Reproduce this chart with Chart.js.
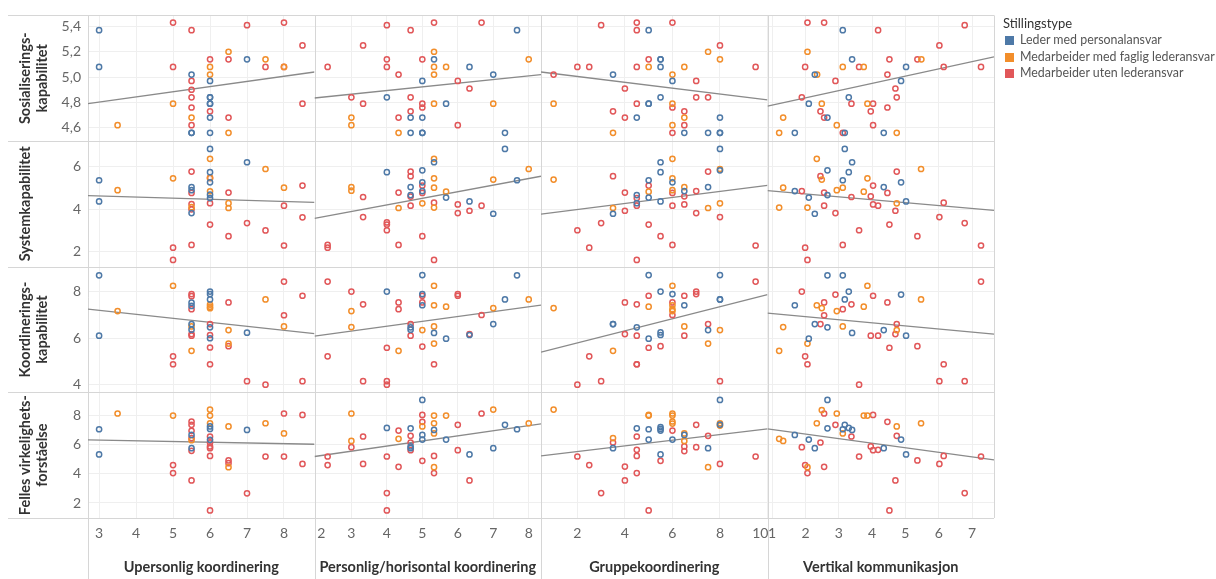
<!DOCTYPE html>
<html>
<head>
<meta charset="utf-8">
<script src="https://cdn.jsdelivr.net/npm/chart.js@4"></script>
<style>
  body { margin: 0; background: #fff; }
  #wrap { position: relative; width: 1216px; height: 579px; }
  #legend { position: absolute; left: 1003px; top: 15px; font-family: Lato, sans-serif; color: #333; }
  #legend .lt { font-size: 13px; line-height: 17px; }
  #legend .li { font-size: 12.4px; line-height: 16.5px; height: 16.5px; white-space: nowrap; color: #555; }
  #legend .sw { display: inline-block; width: 9px; height: 9px; margin: 0 6px 0 2px; vertical-align: -1px; }
</style>
</head>
<body>
<div id="wrap">
  <canvas id="chart" width="1216" height="579"></canvas>
  <div id="legend"></div>
</div>
<script>
/* =========================================================
   DATA  (point = [x, y, group])
   group: 0 = Leder, 1 = faglig lederansvar, 2 = uten lederansvar
========================================================= */
const groups = ["Leder med personalansvar", "Medarbeider med faglig lederansvar", "Medarbeider uten lederansvar"];
const groupColors = ["#4e79a7", "#f28e2b", "#e15759"];

const xTitles = ["Upersonlig koordinering", "Personlig/horisontal koordinering", "Gruppekoordinering", "Vertikal kommunikasjon"];
const yTitles = [["Sosialiserings-", "kapabilitet"], "Systemkapabilitet", ["Koordinerings-", "kapabilitet"], ["Felles virkelighets-", "forståelse"]];

const upersTicks = [3, 4, 5, 6, 7, 8];
const persTicks = [2, 3, 4, 5, 6, 7, 8];
const gruppeTicks = [2, 4, 6, 8, 10];
const vertTicks = [1, 2, 3, 4, 5, 6, 7];

const sosTicks = [4.6, 4.8, 5.0, 5.2, 5.4];
const sysTicks = [2, 4, 6];
const koordTicks = [4, 6, 8];
const fellesTicks = [2, 4, 6, 8];

// row 1: Sosialiseringskapabilitet
const sosUpers = [[3,5.37,0],[3,5.08,0],[3.5,4.62,1],[5,5.43,2],[5,5.08,2],[5,4.79,1],[5.5,5.37,2],[5.5,5.02,0],[5.5,4.97,2],[5.5,4.9,2],[5.5,4.84,2],[5.5,4.76,2],[5.5,4.68,1],[5.5,4.62,2],[5.5,4.56,0],[5.5,4.56,0],[6,5.14,2],[6,5.08,1],[6,5.02,1],[6,4.97,0],[6,4.84,0],[6,4.84,0],[6,4.79,0],[6,4.79,0],[6,4.73,2],[6,4.68,0],[6,4.56,0],[6.5,5.2,1],[6.5,5.14,2],[6.5,4.68,2],[6.5,4.56,1],[7,5.41,2],[7,5.14,0],[7.5,5.14,1],[7.5,5.08,2],[8,5.43,2],[8,5.08,2],[8,5.08,1],[8.5,5.25,2],[8.5,4.79,2]];
const sosPers = [[2.33,5.08,2],[3,4.84,2],[3,4.68,1],[3,4.62,1],[3.33,5.25,2],[3.33,4.79,2],[4,5.41,2],[4,5.14,2],[4,5.08,2],[4,4.84,0],[4.33,5.02,2],[4.33,4.68,2],[4.33,4.56,1],[4.67,5.37,2],[4.67,4.84,2],[4.67,4.73,2],[4.67,4.68,0],[4.67,4.56,0],[5,5.14,2],[5,4.97,0],[5,4.79,2],[5,4.76,2],[5,4.68,0],[5,4.56,0],[5,4.56,0],[5.33,5.43,2],[5.33,5.2,1],[5.33,5.14,0],[5.33,5.08,1],[5.33,5.02,1],[5.33,4.79,1],[5.67,5.08,1],[5.67,4.79,0],[6,4.97,2],[6,4.62,2],[6.33,5.08,0],[6.33,4.91,2],[6.67,5.43,2],[7,5.02,0],[7,4.79,1],[7.33,4.56,0],[7.67,5.37,0],[8,5.14,1]];
const sosGruppe = [[1,5.02,2],[1,4.79,1],[2,5.08,2],[2.5,5.08,2],[3,5.41,2],[3.5,5.02,0],[3.5,4.56,1],[3.5,4.73,2],[4,4.91,2],[4,4.68,2],[4.5,5.43,2],[4.5,5.37,2],[4.5,5.08,2],[4.5,4.79,2],[4.5,4.68,0],[5,5.37,0],[5,5.14,2],[5,5.08,1],[5,4.79,0],[5,4.79,0],[5.5,5.14,0],[5.5,5.14,0],[5.5,5.08,0],[5.5,4.84,0],[6,5.43,2],[6,5.02,1],[6,4.97,0],[6,4.79,1],[6,4.76,2],[6,4.62,1],[6,4.56,2],[6.5,5.08,1],[6.5,4.73,2],[6.5,4.68,1],[6.5,4.62,2],[6.5,4.56,0],[7,4.97,2],[7,4.84,2],[7.5,5.2,1],[7.5,4.84,2],[7.5,4.56,0],[8,5.25,2],[8,5.14,1],[8,4.68,0],[8,4.56,0],[8,4.56,0],[9.5,5.08,2]];
const sosVert = [[2.06,5.43,2],[2.56,5.43,2],[3.12,5.37,0],[4.18,5.37,2],[6.78,5.41,2],[6.02,5.25,2],[2.06,5.2,1],[3.4,5.14,0],[4.52,5.14,2],[5.36,5.14,2],[5.48,5.14,1],[1.99,5.08,2],[3.12,5.08,1],[3.61,5.08,2],[3.75,5.08,1],[5.02,5.08,0],[6.15,5.08,2],[7.27,5.08,2],[2.28,5.02,0],[2.35,5.02,1],[4.46,5.02,2],[2.9,4.97,2],[4.87,4.97,0],[4.7,4.91,2],[1.89,4.84,2],[3.3,4.84,0],[4.74,4.84,2],[2.1,4.79,0],[2.49,4.79,1],[3.38,4.79,2],[3.86,4.79,1],[4.03,4.79,2],[2.45,4.73,2],[3.96,4.73,2],[4.46,4.76,2],[1.33,4.68,1],[2.56,4.68,2],[2.66,4.68,0],[2.94,4.62,1],[4.03,4.62,2],[1.21,4.56,1],[1.68,4.56,0],[3.12,4.56,2],[3.18,4.56,0],[4.35,4.56,0],[4.74,4.56,1]];

// row 2: Systemkapabilitet
const sysUpers = [[3,5.37,0],[3,4.37,0],[3.5,4.9,1],[5,5.46,1],[5,2.19,2],[5,1.61,2],[5.5,5.78,2],[5.5,5.05,0],[5.5,4.9,0],[5.5,4.77,2],[5.5,4.25,2],[5.5,4.1,1],[5.5,4.0,2],[5.5,3.82,0],[5.5,2.32,2],[6,6.85,0],[6,6.38,1],[6,5.75,0],[6,5.48,2],[6,5.48,1],[6,5.27,0],[6,4.85,1],[6,4.69,0],[6,4.53,0],[6,4.29,2],[6,3.28,2],[6.5,4.79,2],[6.5,4.29,1],[6.5,4.06,1],[6.5,2.73,2],[7,6.22,0],[7,3.35,2],[7.5,5.9,1],[7.5,3.0,2],[8,5.02,1],[8,4.17,2],[8,2.29,2],[8.5,5.12,2],[8.5,3.62,2]];
const sysPers = [[2.33,2.32,2],[2.33,2.19,2],[3,5.05,1],[3,4.88,1],[3.33,4.58,2],[3.33,3.63,2],[4,5.75,0],[4,3.38,2],[4,3.28,2],[4,3.01,2],[4.33,4.79,2],[4.33,4.06,1],[4.33,2.32,2],[4.67,5.78,2],[4.67,5.56,2],[4.67,5.05,0],[4.67,4.67,0],[4.67,4.6,2],[4.67,4.17,2],[5,5.84,0],[5,5.27,0],[5,5.12,2],[5,4.86,0],[5,4.77,2],[5,4.28,1],[5,2.73,2],[5.33,6.38,1],[5.33,6.22,0],[5.33,5.46,1],[5.33,5.02,1],[5.33,4.31,2],[5.33,4.08,1],[5.33,1.61,2],[5.67,4.83,1],[5.67,4.55,0],[6,4.23,2],[6,3.82,2],[6.33,4.37,0],[6.33,3.93,2],[6.67,4.17,2],[7,3.79,0],[7,5.4,1],[7.33,6.85,0],[7.67,5.37,0],[8,5.9,1]];
const sysGruppe = [[1,5.4,1],[2,3.01,2],[2.5,2.19,2],[3,3.35,2],[3.5,5.56,2],[3.5,4.06,1],[3.5,3.79,0],[4,4.79,2],[4,3.93,2],[4.5,1.61,2],[4.5,4.67,0],[4.5,4.53,2],[4.5,4.29,0],[4.5,4.17,2],[5,5.37,0],[5,5.12,2],[5,4.83,1],[5,4.55,0],[5,3.28,2],[5.5,6.22,0],[5.5,5.75,0],[5.5,4.37,0],[5.5,2.73,2],[6,6.38,1],[6,5.46,1],[6,5.27,0],[6,4.9,1],[6,4.77,2],[6,4.17,2],[6,2.32,2],[6.5,5.05,1],[6.5,4.86,0],[6.5,4.61,2],[6.5,4.23,2],[7,4.86,2],[7,3.82,2],[7.5,5.78,2],[7.5,5.05,0],[7.5,4.06,1],[8,6.85,0],[8,5.9,1],[8,5.84,0],[8,4.28,1],[8,3.63,2],[9.5,2.29,2]];
const sysVert = [[3.18,6.85,0],[2.34,6.38,1],[3.4,6.22,0],[2.66,5.84,0],[3.3,5.75,0],[4.74,5.78,2],[5.47,5.9,1],[2.45,5.56,2],[2.49,5.4,1],[3.12,5.37,0],[3.86,5.46,1],[4.87,5.27,0],[4.03,5.12,2],[4.35,5.05,0],[1.33,5.02,1],[3.12,5.02,1],[2.94,4.9,1],[1.68,4.86,0],[1.89,4.86,2],[3.75,4.83,1],[2.56,4.79,2],[4.46,4.77,2],[2.66,4.67,0],[3.96,4.61,2],[3.38,4.58,2],[2.1,4.55,0],[5.02,4.37,0],[4.74,4.28,1],[6.15,4.31,2],[4.03,4.23,2],[4.18,4.17,2],[2.56,4.17,2],[1.21,4.08,1],[2.06,4.08,1],[4.7,3.93,2],[2.9,3.82,2],[2.28,3.79,0],[6.02,3.63,2],[6.78,3.35,2],[4.52,3.28,2],[3.61,3.01,2],[5.36,2.73,2],[1.99,2.19,2],[3.12,2.32,2],[7.27,2.29,2],[2.06,1.61,2]];

// row 3: Koordineringskapabilitet
const koordUpers = [[3,8.71,0],[3,6.11,0],[3.5,7.17,1],[5,8.26,1],[5,5.22,2],[5,4.88,2],[5.5,7.9,2],[5.5,7.81,2],[5.5,7.53,0],[5.5,7.39,0],[5.5,7.25,2],[5.5,6.61,0],[5.5,6.51,1],[5.5,6.37,0],[5.5,6.18,2],[5.5,6.11,2],[5.5,5.46,1],[6,8.01,0],[6,7.9,0],[6,7.67,0],[6,7.45,1],[6,7.36,1],[6,7.29,1],[6,6.61,2],[6,6.47,0],[6,6.14,2],[6,6.0,0],[6,5.6,2],[6,4.88,2],[6.5,7.54,2],[6.5,6.35,1],[6.5,5.77,1],[6.5,5.66,2],[7,6.24,0],[7,4.15,2],[7.5,7.67,1],[7.5,4.0,2],[8,8.44,2],[8,6.99,2],[8,6.51,1],[8.5,7.83,2],[8.5,4.15,2]];
const koordPers = [[2.33,8.44,2],[2.33,5.22,2],[3,8.01,2],[3,7.17,1],[3,6.48,1],[3.33,7.46,2],[3.33,4.15,2],[4,8.01,0],[4,5.59,2],[4,4.15,2],[4,4.0,2],[4.33,7.54,2],[4.33,7.25,2],[4.33,5.46,1],[4.67,6.61,2],[4.67,6.47,0],[4.67,6.37,0],[4.67,6.11,2],[5,8.72,0],[5,7.9,0],[5,7.83,2],[5,7.54,2],[5,7.42,0],[5,6.35,1],[5,5.64,2],[5.33,8.26,1],[5.33,7.42,1],[5.33,6.51,1],[5.33,6.23,0],[5.33,5.77,1],[5.33,4.88,2],[5.67,7.36,1],[5.67,5.98,0],[6,7.9,2],[6,7.83,2],[6.33,6.14,0],[6.33,6.18,2],[6.67,7.0,2],[7,6.61,0],[7,7.3,1],[7.33,7.67,0],[7.67,8.71,0],[8,7.67,1]];
const koordGruppe = [[1,7.3,1],[2,4.0,2],[2.5,5.22,2],[3,4.15,2],[3.5,6.61,0],[3.5,6.61,0],[3.5,5.46,1],[4,7.54,2],[4,6.18,2],[4.5,7.46,2],[4.5,6.47,0],[4.5,6.11,2],[4.5,4.88,2],[4.5,4.88,2],[5,7.83,2],[5,8.72,0],[5,7.36,1],[5,5.98,0],[5,5.59,2],[5.5,8.01,0],[5.5,6.25,0],[5.5,6.14,0],[5.5,5.66,2],[6,8.26,1],[6,7.9,0],[6,7.54,2],[6,7.42,1],[6,7.25,1],[6,7.17,1],[6,7.0,2],[6.5,7.83,2],[6.5,7.42,0],[6.5,6.51,1],[6.5,6.11,2],[7,8.01,2],[7,7.9,2],[7.5,6.61,2],[7.5,6.35,0],[7.5,5.77,1],[8,8.72,0],[8,7.67,0],[8,7.67,0],[8,6.35,1],[8,4.15,2],[9.5,8.44,2]];
const koordVert = [[2.66,8.71,0],[3.12,8.71,0],[7.27,8.44,2],[3.86,8.26,1],[1.89,8.01,2],[3.3,8.01,0],[2.9,7.88,2],[4.03,7.83,2],[4.87,7.88,0],[3.18,7.67,0],[5.47,7.67,1],[2.56,7.54,2],[4.46,7.54,2],[1.68,7.42,0],[2.34,7.42,1],[3.38,7.46,2],[2.49,7.3,1],[3.75,7.36,1],[3.12,7.25,2],[2.94,7.17,1],[2.56,6.99,2],[2.28,6.61,0],[2.45,6.61,2],[4.74,6.61,2],[1.33,6.48,1],[2.66,6.47,0],[3.12,6.51,1],[4.35,6.35,0],[4.74,6.35,1],[3.4,6.23,0],[4.7,6.18,2],[3.96,6.11,2],[4.18,6.11,2],[5.02,6.11,0],[2.1,5.98,0],[2.06,5.77,1],[4.52,5.59,2],[5.36,5.66,2],[1.21,5.46,1],[1.99,5.22,2],[2.06,4.88,2],[6.15,4.88,2],[6.02,4.15,2],[6.78,4.15,2],[3.61,4.0,2]];

// row 4: Felles virkelighetsforståelse
const fellesUpers = [[3,7.06,0],[3,5.33,0],[3.5,8.14,1],[5,8.0,1],[5,4.6,2],[5,4.05,2],[5.5,7.59,2],[5.5,7.36,2],[5.5,6.95,2],[5.5,6.67,0],[5.5,6.45,2],[5.5,6.31,1],[5.5,5.76,0],[5.5,5.58,2],[5.5,3.55,2],[6,8.41,1],[6,8.0,1],[6,7.47,1],[6,7.25,0],[6,7.08,0],[6,6.56,2],[6,6.33,0],[6,6.15,2],[6,5.88,2],[6,5.76,2],[6,5.23,2],[6,1.49,2],[6.5,7.25,1],[6.5,4.92,2],[6.5,4.73,2],[6.5,4.46,1],[7,7.01,0],[7,2.66,2],[7.5,7.47,1],[7.5,5.19,2],[8,8.14,2],[8,6.77,1],[8,5.19,2],[8.5,8.04,2],[8.5,4.68,2]];
const fellesPers = [[2.33,5.19,2],[2.33,4.6,2],[3,8.14,1],[3,6.26,1],[3,5.83,2],[3.33,6.56,2],[3.33,4.68,2],[4,7.15,0],[4,5.19,2],[4,2.68,2],[4,1.49,2],[4.33,6.97,2],[4.33,6.4,1],[4.33,4.48,2],[4.67,7.12,0],[4.67,6.61,2],[4.67,6.15,2],[4.67,5.88,0],[4.67,5.76,0],[4.67,5.62,2],[5,9.07,0],[5,8.04,2],[5,7.57,2],[5,7.25,1],[5,6.67,0],[5,6.35,0],[5,4.89,2],[5.33,8.0,1],[5.33,7.47,1],[5.33,7.01,0],[5.33,6.77,1],[5.33,5.23,2],[5.33,4.46,1],[5.33,4.05,2],[5.67,8.0,1],[5.67,6.35,0],[6,7.36,2],[6,5.62,2],[6.33,3.55,2],[6.33,5.33,0],[6.67,8.14,2],[7,8.41,1],[7,5.76,0],[7.33,7.36,0],[7.67,7.06,0],[8,7.47,1]];
const fellesGruppe = [[1,8.41,1],[2,5.19,2],[2.5,4.6,2],[3,2.68,2],[3.5,6.45,1],[3.5,6.15,2],[3.5,5.76,0],[4,4.5,2],[4,3.55,2],[4.5,7.12,0],[4.5,6.56,2],[4.5,5.65,2],[4.5,5.23,2],[4.5,4.05,2],[5,8.04,1],[5,8.0,1],[5,7.06,0],[5,6.35,0],[5,1.49,2],[5.5,7.2,0],[5.5,7.08,0],[5.5,6.97,0],[5.5,5.33,0],[5.5,4.89,2],[6,8.14,1],[6,8.0,1],[6,7.59,1],[6,7.45,1],[6,6.97,2],[6,6.35,0],[6.5,6.67,0],[6.5,6.77,1],[6.5,6.26,1],[6.5,5.88,2],[6.5,5.56,2],[7,7.36,2],[7,5.83,2],[7.5,6.61,2],[7.5,5.76,0],[7.5,4.46,1],[8,9.07,0],[8,7.47,1],[8,7.38,0],[8,7.31,1],[8,4.68,2],[9.5,5.19,2]];
const fellesVert = [[2.66,9.07,0],[2.49,8.38,1],[2.56,8.14,2],[2.94,8.14,1],[3.75,8.0,1],[3.86,8.0,1],[4.03,8.04,2],[4.46,7.57,2],[2.34,7.47,1],[5.47,7.47,1],[2.9,7.36,2],[3.18,7.36,0],[4.74,7.25,1],[2.66,7.12,0],[3.3,7.15,0],[3.12,7.06,0],[3.4,7.01,0],[3.12,6.77,1],[1.68,6.67,0],[4.74,6.61,2],[3.38,6.56,2],[1.21,6.4,1],[1.33,6.26,1],[2.1,6.35,0],[4.87,6.35,0],[2.45,6.15,2],[1.89,5.83,2],[2.28,5.76,0],[3.96,5.88,2],[4.35,5.76,0],[4.03,5.62,2],[4.18,5.65,2],[5.02,5.33,0],[3.61,5.19,2],[6.15,5.23,2],[7.27,5.19,2],[5.36,4.92,2],[6.02,4.68,2],[1.99,4.6,2],[2.06,4.46,1],[2.56,4.48,2],[2.06,4.05,2],[4.7,3.55,2],[6.78,2.68,2],[4.52,1.49,2]];

// trend lines: value at left and right edge of each panel
const trendSos = [[4.79, 5.04], [4.835, 5.02], [5.04, 4.82], [4.77, 5.16]];
const trendSys = [[4.64, 4.33], [3.57, 5.56], [3.77, 5.13], [4.88, 3.95]];
const trendKoord = [[7.25, 6.2], [6.09, 7.43], [5.4, 7.88], [7.08, 6.18]];
const trendFelles = [[6.33, 6.03], [5.19, 7.43], [5.23, 7.08], [7.08, 4.96]];

/* =========================================================
   LAYOUT
========================================================= */
const xRanges = [[2.7, 8.825], [1.96, 8.346], [0.47, 10.0], [0.86, 7.66]];
const yRanges = [[4.495, 5.487], [1.29, 7.22], [3.67, 9.08], [0.97, 9.59]];

const panels = [
  [sosUpers, sosPers, sosGruppe, sosVert],
  [sysUpers, sysPers, sysGruppe, sysVert],
  [koordUpers, koordPers, koordGruppe, koordVert],
  [fellesUpers, fellesPers, fellesGruppe, fellesVert]
];
const trends = [trendSos, trendSys, trendKoord, trendFelles];
const xTicks = [upersTicks, persTicks, gruppeTicks, vertTicks];
const yTicks = [sosTicks, sysTicks, koordTicks, fellesTicks];

const FONT = "Lato, 'Open Sans', sans-serif";
const GRID = "#efefef";
const SEP = "#d6d6d6";

/* =========================================================
   DATASETS
========================================================= */
const datasets = [];

panels.forEach((row, r) => {
  row.forEach((pts, c) => {
    datasets.push({
      type: "line",
      xAxisID: "x" + c,
      yAxisID: "y" + r,
      data: [
        { x: xRanges[c][0], y: trends[r][c][0] },
        { x: xRanges[c][1], y: trends[r][c][1] }
      ],
      borderColor: "#8a8a8a",
      borderWidth: 1.3,
      pointRadius: 0,
      fill: false,
      order: 2
    });

    groups.forEach((g, gi) => {
      datasets.push({
        type: "scatter",
        label: g,
        xAxisID: "x" + c,
        yAxisID: "y" + r,
        data: pts.filter(p => p[2] === gi).map(p => ({ x: p[0], y: p[1] })),
        pointRadius: 2.6,
        pointBorderWidth: 1.5,
        pointBorderColor: groupColors[gi],
        pointBackgroundColor: "rgba(255,255,255,0)",
        order: 1
      });
    });
  });
});

/* =========================================================
   SCALES
========================================================= */
function xLabel(c, v) {
  // Tableau nudges edge labels inside the pane
  if (c === 1 && v === 2) return "   2";
  if (c === 2 && v === 10) return "10    ";
  return String(v);
}

const scales = {};

xTitles.forEach((t, c) => {
  scales["x" + c] = {
    type: "linear",
    axis: "x",
    position: "bottom",
    stack: "cols",
    stackWeight: 1,
    min: xRanges[c][0],
    max: xRanges[c][1],
    afterBuildTicks: s => { s.ticks = xTicks[c].map(v => ({ value: v })); },
    afterFit: s => { s.height = 61; },
    grid: { color: GRID, drawTicks: false },
    border: { display: false },
    ticks: {
      padding: 7.5,
      color: "#666",
      autoSkip: false,
      maxRotation: 0,
      font: { family: FONT, size: 14, lineHeight: 1.2 },
      callback: v => xLabel(c, v)
    },
    title: {
      display: true,
      text: t,
      color: "#333",
      font: { family: FONT, size: 14.5, weight: "bold", lineHeight: 1.17 },
      padding: { top: 0, bottom: 3 }
    }
  };
});

yTitles.forEach((t, r) => {
  scales["y" + r] = {
    type: "linear",
    axis: "y",
    position: "left",
    stack: "rows",
    stackWeight: 1,
    weight: 4 - r,
    min: yRanges[r][0],
    max: yRanges[r][1],
    afterBuildTicks: s => { s.ticks = yTicks[r].map(v => ({ value: v })); },
    afterFit: s => { s.width = 88; },
    grid: { color: GRID, drawTicks: false },
    border: { display: false },
    ticks: {
      padding: 7,
      color: "#666",
      autoSkip: false,
      font: { family: FONT, size: 14 },
      callback: v => r === 0 ? v.toFixed(1).replace(".", ",") : String(v)
    },
    title: {
      display: true,
      text: t,
      color: "#333",
      font: { family: FONT, size: 14.5, weight: "bold", lineHeight: 1.17 },
      padding: { top: 16.5, bottom: 0 }
    }
  };
});

/* =========================================================
   PANEL SEPARATORS
========================================================= */
const panelLines = {
  id: "panelLines",
  beforeDatasetsDraw(chart) {
    const { ctx, chartArea, scales: sc } = chart;
    const line = (x1, y1, x2, y2) => {
      ctx.beginPath();
      ctx.moveTo(x1, y1);
      ctx.lineTo(x2, y2);
      ctx.stroke();
    };
    ctx.save();
    ctx.strokeStyle = SEP;
    ctx.lineWidth = 1;

    const ys = [chartArea.top].concat(yTitles.map((t, r) => sc["y" + r].bottom));
    ys.forEach(y => {
      const yy = Math.round(y) + 0.5;
      line(8, yy, chartArea.right, yy);
    });

    xTitles.forEach((t, c) => {
      const xx = Math.round(sc["x" + c].left) + 0.5;
      line(xx, chartArea.top, xx, chart.height);
    });
    const xr = Math.round(chartArea.right) + 0.5;
    line(xr, chartArea.top, xr, chartArea.bottom);

    ctx.restore();
  }
};

/* =========================================================
   CHART
========================================================= */
new Chart(document.getElementById("chart"), {
  type: "scatter",
  data: { datasets },
  options: {
    responsive: false,
    animation: false,
    events: [],
    layout: { padding: { left: 0, top: 14, right: 222, bottom: 0 } },
    plugins: {
      legend: { display: false },
      tooltip: { enabled: false }
    },
    scales
  },
  plugins: [panelLines]
});

/* =========================================================
   LEGEND
========================================================= */
const legend = document.getElementById("legend");
legend.innerHTML = `<div class="lt">Stillingstype</div>` +
  groups.map((g, i) => `<div class="li"><span class="sw" style="background:${groupColors[i]}"></span>${g}</div>`).join("");
</script>
</body>
</html>
